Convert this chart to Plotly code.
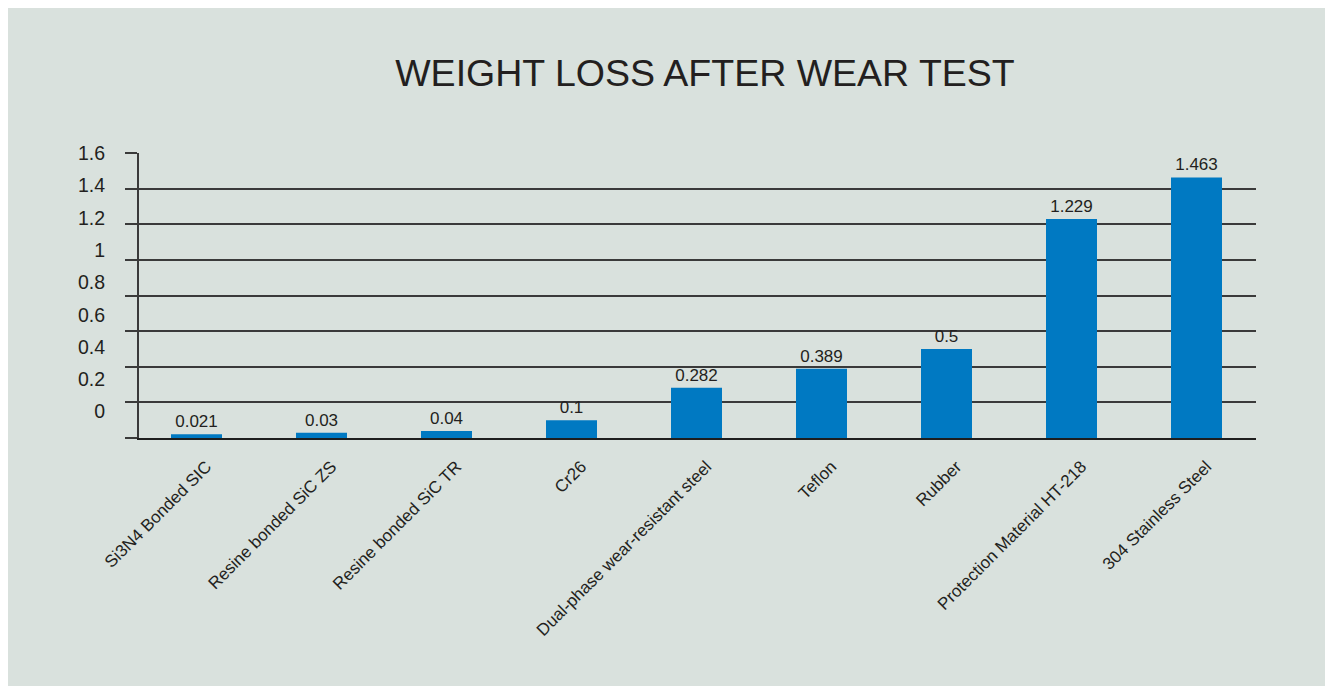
import plotly.graph_objects as go

categories = ["Si3N4 Bonded SIC", "Resine bonded SiC ZS", "Resine bonded SiC TR", "Cr26",
              "Dual-phase wear-resistant steel", "Teflon", "Rubber",
              "Protection Material HT-218", "304 Stainless Steel"]
values = [0.021, 0.03, 0.04, 0.1, 0.282, 0.389, 0.5, 1.229, 1.463]
value_labels = ["0.021", "0.03", "0.04", "0.1", "0.282", "0.389", "0.5", "1.229", "1.463"]
y_ticks = [0, 0.2, 0.4, 0.6, 0.8, 1.0, 1.2, 1.4, 1.6]
y_tick_labels = ["0", "0.2", "0.4", "0.6", "0.8", "1", "1.2", "1.4", "1.6"]

W, H = 1333, 686
ML, MR, MT, MB = 131, 85, 145, 256

BG = "#d9e1dd"
BAR = "#0079c2"
TXT = "#231f20"
GRID = "#3a3a3a"
FONT = "Liberation Sans, Arial, sans-serif"

idx = list(range(len(categories)))
x_lo, x_hi = -0.46, 8.476
shift = 10 / 125.0

fig = go.Figure()
fig.add_trace(go.Bar(
    x=categories, y=values, width=0.408, marker=dict(color=BAR, line=dict(width=0)),
    text=value_labels, textposition="outside", cliponaxis=False,
    textfont=dict(family=FONT, size=17, color=TXT), hoverinfo="skip"))
# invisible helper trace for the label axes
fig.add_trace(go.Scatter(
    x=idx, y=values, xaxis="x2", yaxis="y2", mode="markers",
    marker=dict(opacity=0), hoverinfo="skip", showlegend=False))

fig.update_layout(
    width=W, height=H,
    margin=dict(l=ML, r=MR, t=MT, b=MB, pad=0),
    paper_bgcolor=BG, plot_bgcolor=BG,
    showlegend=False,
    title=dict(text="WEIGHT LOSS AFTER WEAR TEST", x=697 / W, xanchor="center",
               y=1 - 65 / H, yanchor="middle", yref="container",
               font=dict(family=FONT, size=37.5, color=TXT)),
    xaxis=dict(type="category", range=[x_lo, x_hi], showticklabels=False, ticks="",
               showgrid=False, zeroline=False, showline=True, linecolor="#1e1e1e",
               linewidth=2),
    yaxis=dict(range=[0, 1.6], tickvals=y_ticks, showticklabels=False,
               ticks="outside", ticklen=12, tickwidth=1.5, tickcolor=GRID,
               showgrid=True, gridcolor=GRID, gridwidth=1.5, zeroline=False,
               showline=True, linecolor=GRID, linewidth=2),
    xaxis2=dict(overlaying="x", anchor="y", side="bottom", type="linear",
                range=[x_lo - shift, x_hi - shift], tickvals=idx, ticktext=categories,
                tickangle=-45, ticks="outside", ticklen=11, tickcolor="rgba(0,0,0,0)",
                showgrid=False, zeroline=False, showline=False,
                tickfont=dict(family=FONT, size=17, color=TXT)),
    yaxis2=dict(overlaying="y", anchor="x", side="left",
                range=[-0.163, 1.6006], tickvals=y_ticks, ticktext=y_tick_labels,
                ticks="outside", ticklen=29, tickcolor="rgba(0,0,0,0)",
                showgrid=False, zeroline=False, showline=False,
                tickfont=dict(family=FONT, size=19.5, color=TXT)),
)

fig.write_html("out.html")
